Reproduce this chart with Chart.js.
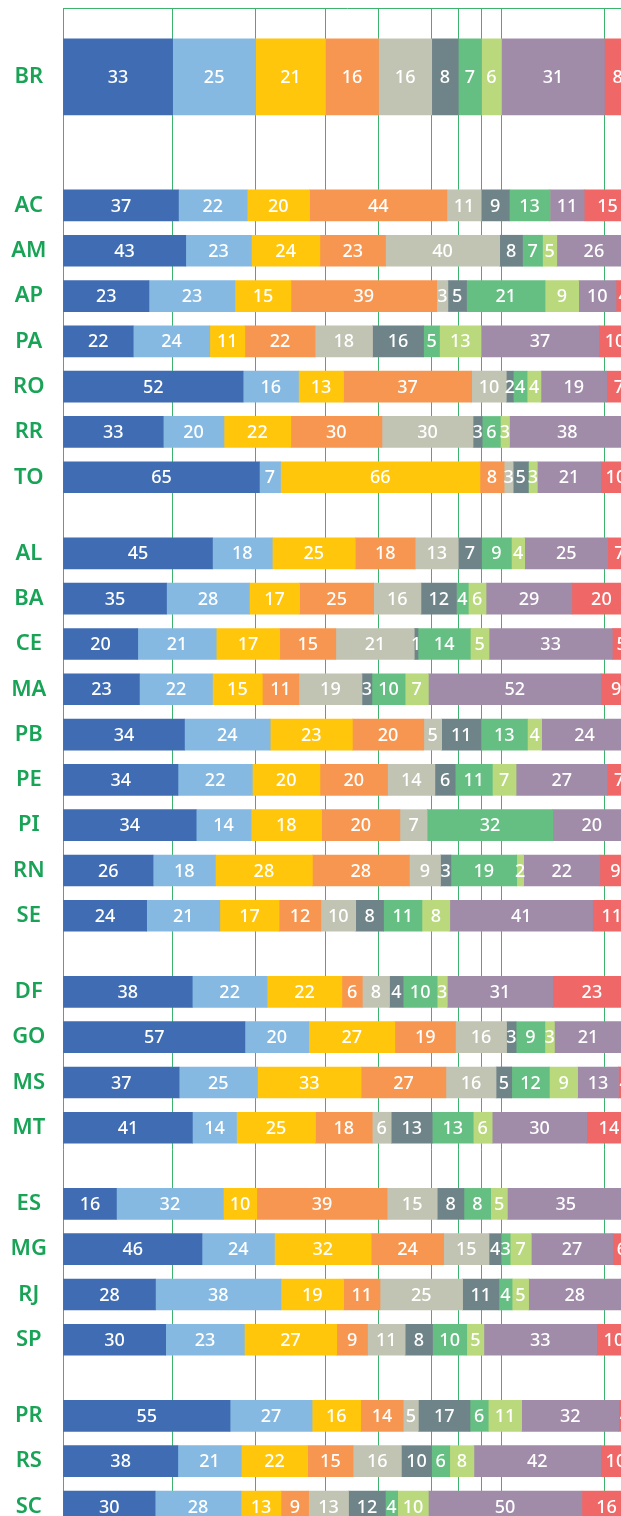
<!DOCTYPE html>
<html>
<head>
<meta charset="utf-8">
<script src="https://cdn.jsdelivr.net/npm/chart.js@4.4.1/dist/chart.umd.min.js"></script>
<style>
  html, body { margin: 0; padding: 0; background: #fff; overflow: hidden; }
  #wrap { position: relative; width: 631px; height: 1530px; }
</style>
</head>
<body>
<div id="wrap"><canvas id="chart"></canvas></div>
<script>
// rows (BR first, then the regions)
const states = ['BR','AC','AM','AP','PA','RO','RR','TO','AL','BA','CE','MA','PB','PE','PI','RN','SE','DF','GO','MS','MT','ES','MG','RJ','SP','PR','RS','SC'];
const groupSizes = [1, 7, 9, 4, 4, 3];

// the ten series, one value per row
const darkBlue   = [33,37,43,23,22,52,33,65,45,35,20,23,34,34,34,26,24,38,57,37,41,16,46,28,30,55,38,30];
const lightBlue  = [25,22,23,23,24,16,20,7,18,28,21,22,24,22,14,18,21,22,20,25,14,32,24,38,23,27,21,28];
const yellow     = [21,20,24,15,11,13,22,66,25,17,17,15,23,20,18,28,17,22,27,33,25,10,32,19,27,16,22,13];
const orange     = [16,44,23,39,22,37,30,8,18,25,15,11,20,20,20,28,12,6,19,27,18,39,24,11,9,14,15,9];
const gray       = [16,11,40,3,18,10,30,3,13,16,21,19,5,14,7,9,10,8,16,16,6,15,15,25,11,5,16,13];
const slate      = [8,9,8,5,16,2,3,5,7,12,1,3,11,6,0,3,8,4,3,5,13,8,4,11,8,17,10,12];
const green      = [7,13,7,21,5,4,6,0,9,4,14,10,13,11,32,19,11,10,9,12,13,8,3,4,10,6,6,4];
const lightGreen = [6,0,5,9,13,4,3,3,4,6,5,7,4,7,0,2,8,3,3,9,6,5,7,5,5,11,8,10];
const purple     = [31,11,26,10,37,19,38,21,25,29,33,52,24,27,20,22,41,31,21,13,30,35,27,28,33,32,42,50];
const red        = [8,15,0,4,10,7,2,10,7,20,5,9,1,7,0,9,11,23,3,4,14,2,6,3,10,4,10,16];

const series = [darkBlue, lightBlue, yellow, orange, gray, slate, green, lightGreen, purple, red];
const colors = ['#3f6cb2','#85b9e2','#ffc60b','#f79651','#c1c3b3','#6f8489','#66bf82','#b9d97c','#a08ba8','#f06767'];

// layout (in row units / pixels)
const firstGap = 1.84, groupGap = 0.68;
const pxPerRow = 45.3, topPad = 8, firstCenter = 76.8;

const positions = [];
let p = 0;
groupSizes.forEach((n, g) => {
  for (let k = 0; k < n; k++) {
    positions.push(p);
    p += 1;
  }
  p += g === 0 ? firstGap : groupGap;
});

const totals = states.map((s, i) => series.reduce((a, arr) => a + arr[i], 0));
const pct = (v, i) => v / totals[i] * 100;

// gridlines sit on the BR segment boundaries
const gridValues = [0];
series.forEach(arr => gridValues.push(gridValues[gridValues.length - 1] + pct(arr[0], 0)));

const datasets = [];
series.forEach((arr, k) => {
  datasets.push({
    data: [{ x: pct(arr[0], 0), y: positions[0] }],
    raw: [arr[0]],
    backgroundColor: colors[k],
    stack: 'br',
    barThickness: 76,
    grouped: false
  });
});
series.forEach((arr, k) => {
  const idx = states.map((s, i) => i).slice(1);
  datasets.push({
    data: idx.map(i => ({ x: pct(arr[i], i), y: positions[i] })),
    raw: idx.map(i => arr[i]),
    backgroundColor: colors[k],
    stack: 'states',
    barThickness: 31,
    grouped: false
  });
});

const valueLabels = {
  id: 'valueLabels',
  afterDatasetsDraw(chart) {
    const ctx = chart.ctx;
    const area = chart.chartArea;
    ctx.save();
    ctx.beginPath();
    ctx.rect(area.left, area.top, area.right - area.left, area.bottom - area.top);
    ctx.clip();
    ctx.fillStyle = '#ffffff';
    ctx.font = '500 18px "Noto Sans"';
    ctx.textAlign = 'center';
    ctx.textBaseline = 'middle';
    chart.data.datasets.forEach((ds, di) => {
      const meta = chart.getDatasetMeta(di);
      meta.data.forEach((bar, i) => {
        const v = ds.raw[i];
        if (!v) return;
        ctx.fillText(String(v), (bar.x + bar.base) / 2, bar.y + 1);
      });
    });
    ctx.restore();
  }
};

const chart = new Chart(document.getElementById('chart'), {
  type: 'bar',
  data: { datasets: datasets },
  options: {
    indexAxis: 'y',
    responsive: true,
    maintainAspectRatio: false,
    animation: false,
    layout: { autoPadding: false, padding: { top: topPad, left: 0, right: 0, bottom: 0 } },
    plugins: {
      legend: { display: false },
      tooltip: { enabled: false }
    },
    scales: {
      x: {
        type: 'linear',
        position: 'top',
        min: 0,
        max: 100,
        stacked: true,
        offset: false,
        afterBuildTicks: axis => { axis.ticks = gridValues.map(v => ({ value: v })); },
        afterFit: axis => { axis.height = 0; axis.paddingLeft = 0; axis.paddingRight = 0; },
        ticks: { display: false },
        grid: { color: '#3db46d', lineWidth: 1, drawTicks: false },
        border: { display: true, color: '#3db46d', width: 1 }
      },
      y: {
        type: 'linear',
        reverse: true,
        offset: false,
        min: -1.5,
        max: 32,
        stacked: true,
        afterBuildTicks: axis => { axis.ticks = positions.map(v => ({ value: v })); },
        afterFit: axis => { axis.width = 63; axis.paddingTop = 0; axis.paddingBottom = 0; },
        ticks: {
          autoSkip: false,
          crossAlign: 'center',
          padding: 8,
          color: '#19a357',
          font: { family: 'Noto Sans', size: 22, weight: 600 },
          callback: (v, i) => states[i]
        },
        grid: { display: false },
        border: { display: false }
      }
    }
  },
  plugins: [valueLabels]
});

// map rows so BR sits at firstCenter, one row every pxPerRow pixels
const area = chart.chartArea;
chart.options.scales.y.min = (area.top - firstCenter) / pxPerRow;
chart.options.scales.y.max = (area.bottom - firstCenter) / pxPerRow;
chart.update();
</script>
</body>
</html>
